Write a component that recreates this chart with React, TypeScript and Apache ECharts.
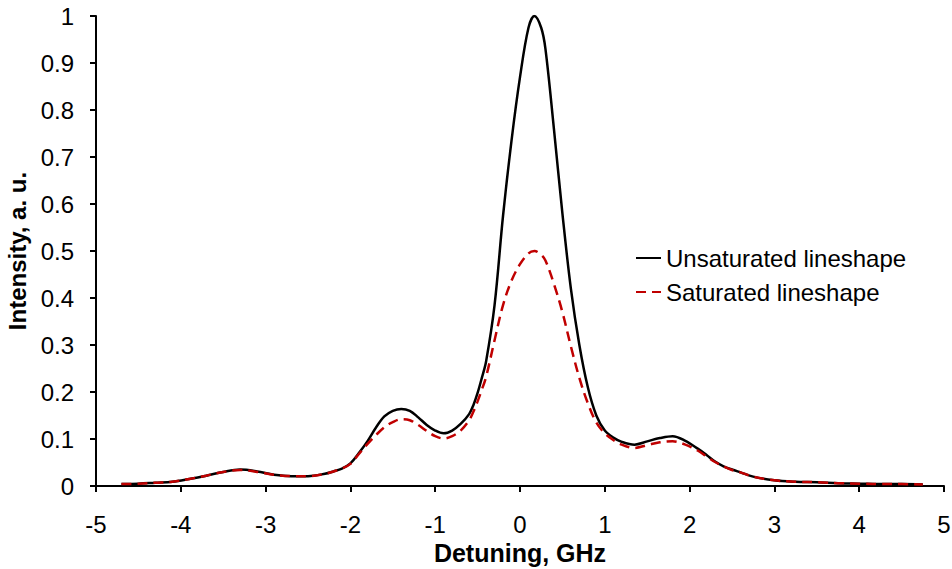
import React, { useEffect, useRef } from "react";
import * as echarts from "echarts";

const detuning = [-4.7, -4.5, -4.3, -4.1, -3.9, -3.7, -3.5, -3.3, -3.1, -2.9, -2.7, -2.5, -2.3, -2.2, -2.1, -2.0, -1.9, -1.8, -1.7, -1.6, -1.5, -1.4, -1.3, -1.2, -1.1, -1.0, -0.9, -0.8, -0.7, -0.6, -0.55, -0.5, -0.45, -0.4, -0.3, -0.2, -0.1, 0.0, 0.1, 0.17, 0.25, 0.3, 0.4, 0.5, 0.6, 0.7, 0.8, 0.9, 1.0, 1.1, 1.2, 1.35, 1.5, 1.65, 1.8, 1.95, 2.1, 2.2, 2.3, 2.4, 2.5, 2.6, 2.75, 3.0, 3.25, 3.5, 3.75, 4.0, 4.25, 4.5, 4.75];

const unsaturated = [0.004, 0.005, 0.007, 0.009, 0.015, 0.022, 0.030, 0.035, 0.031, 0.024, 0.021, 0.021, 0.026, 0.031, 0.037, 0.048, 0.070, 0.095, 0.124, 0.148, 0.160, 0.164, 0.160, 0.146, 0.130, 0.118, 0.112, 0.118, 0.132, 0.153, 0.172, 0.198, 0.230, 0.265, 0.385, 0.575, 0.735, 0.87, 0.975, 1.0, 0.975, 0.93, 0.76, 0.58, 0.42, 0.30, 0.21, 0.15, 0.118, 0.103, 0.094, 0.088, 0.095, 0.102, 0.106, 0.096, 0.079, 0.066, 0.052, 0.042, 0.035, 0.029, 0.02, 0.012, 0.009, 0.008, 0.006, 0.005, 0.004, 0.004, 0.003];

const saturated = [0.004, 0.005, 0.007, 0.009, 0.015, 0.022, 0.030, 0.034, 0.030, 0.024, 0.021, 0.021, 0.026, 0.031, 0.037, 0.047, 0.068, 0.089, 0.108, 0.125, 0.136, 0.142, 0.140, 0.130, 0.117, 0.106, 0.101, 0.106, 0.118, 0.140, 0.158, 0.180, 0.205, 0.232, 0.31, 0.385, 0.437, 0.472, 0.495, 0.50, 0.492, 0.48, 0.43, 0.37, 0.297, 0.23, 0.176, 0.135, 0.112, 0.098, 0.088, 0.081, 0.087, 0.093, 0.095, 0.088, 0.075, 0.063, 0.051, 0.042, 0.034, 0.029, 0.02, 0.012, 0.009, 0.008, 0.006, 0.005, 0.004, 0.004, 0.003];

const seriesNames = ["Unsaturated lineshape", "Saturated lineshape"];
const xTitle = "Detuning, GHz";
const yTitle = "Intensity, a. u.";

const FONT = "Arial, 'Liberation Sans', sans-serif";

export default function App() {
  const ref = useRef<HTMLDivElement>(null);
  useEffect(() => {
    if (!ref.current) return;
    const chart = echarts.init(ref.current, undefined, { renderer: "svg" });
    const axisCommon = {
      axisLine: { show: true, onZero: false, lineStyle: { color: "#000", width: 2 } },
      axisTick: { show: true, inside: false, length: 6, lineStyle: { color: "#000", width: 2 } },
      splitLine: { show: false },
    };
    chart.setOption({
      animation: false,
      backgroundColor: "#fff",
      grid: { left: 96, top: 16, right: 8, bottom: 83, containLabel: false, outerBoundsMode: "none" },
      legend: {
        orient: "vertical",
        left: 635,
        top: 246,
        padding: 0,
        itemWidth: 25,
        itemHeight: 14,
        itemGap: 10,
        itemStyle: { opacity: 0 },
        textStyle: { fontFamily: FONT, fontSize: 24, color: "#000" },
        data: seriesNames,
      },
      xAxis: {
        type: "value",
        min: -5,
        max: 5,
        interval: 1,
        name: xTitle,
        nameLocation: "middle",
        nameGap: 52,
        nameTextStyle: { fontFamily: FONT, fontSize: 25, fontWeight: "bold", color: "#000" },
        axisLabel: { fontFamily: FONT, fontSize: 24, color: "#000", margin: 26 },
        ...axisCommon,
      },
      yAxis: {
        type: "value",
        min: 0,
        max: 1,
        interval: 0.1,
        name: yTitle,
        nameLocation: "middle",
        nameGap: 65,
        nameTextStyle: { fontFamily: FONT, fontSize: 24, fontWeight: "bold", color: "#000" },
        axisLabel: { fontFamily: FONT, fontSize: 24, color: "#000", margin: 22 },
        ...axisCommon,
      },
      series: [
        {
          name: seriesNames[0],
          type: "line",
          data: detuning.map((x, i) => [x, unsaturated[i]]),
          smooth: 0.35,
          symbol: "none",
          lineStyle: { color: "#000", width: 2.5 },
          itemStyle: { color: "#000" },
          z: 3,
        },
        {
          name: seriesNames[1],
          type: "line",
          data: detuning.map((x, i) => [x, saturated[i]]),
          smooth: 0.35,
          symbol: "none",
          lineStyle: { color: "#C00000", width: 2.5, type: [10, 6] },
          itemStyle: { color: "#C00000" },
          z: 4,
        },
      ],
    });
    return () => chart.dispose();
  }, []);
  return (
    <div
      ref={ref}
      style={{ position: "fixed", left: 0, top: 0, width: 952, height: 569, background: "#fff" }}
    />
  );
}
